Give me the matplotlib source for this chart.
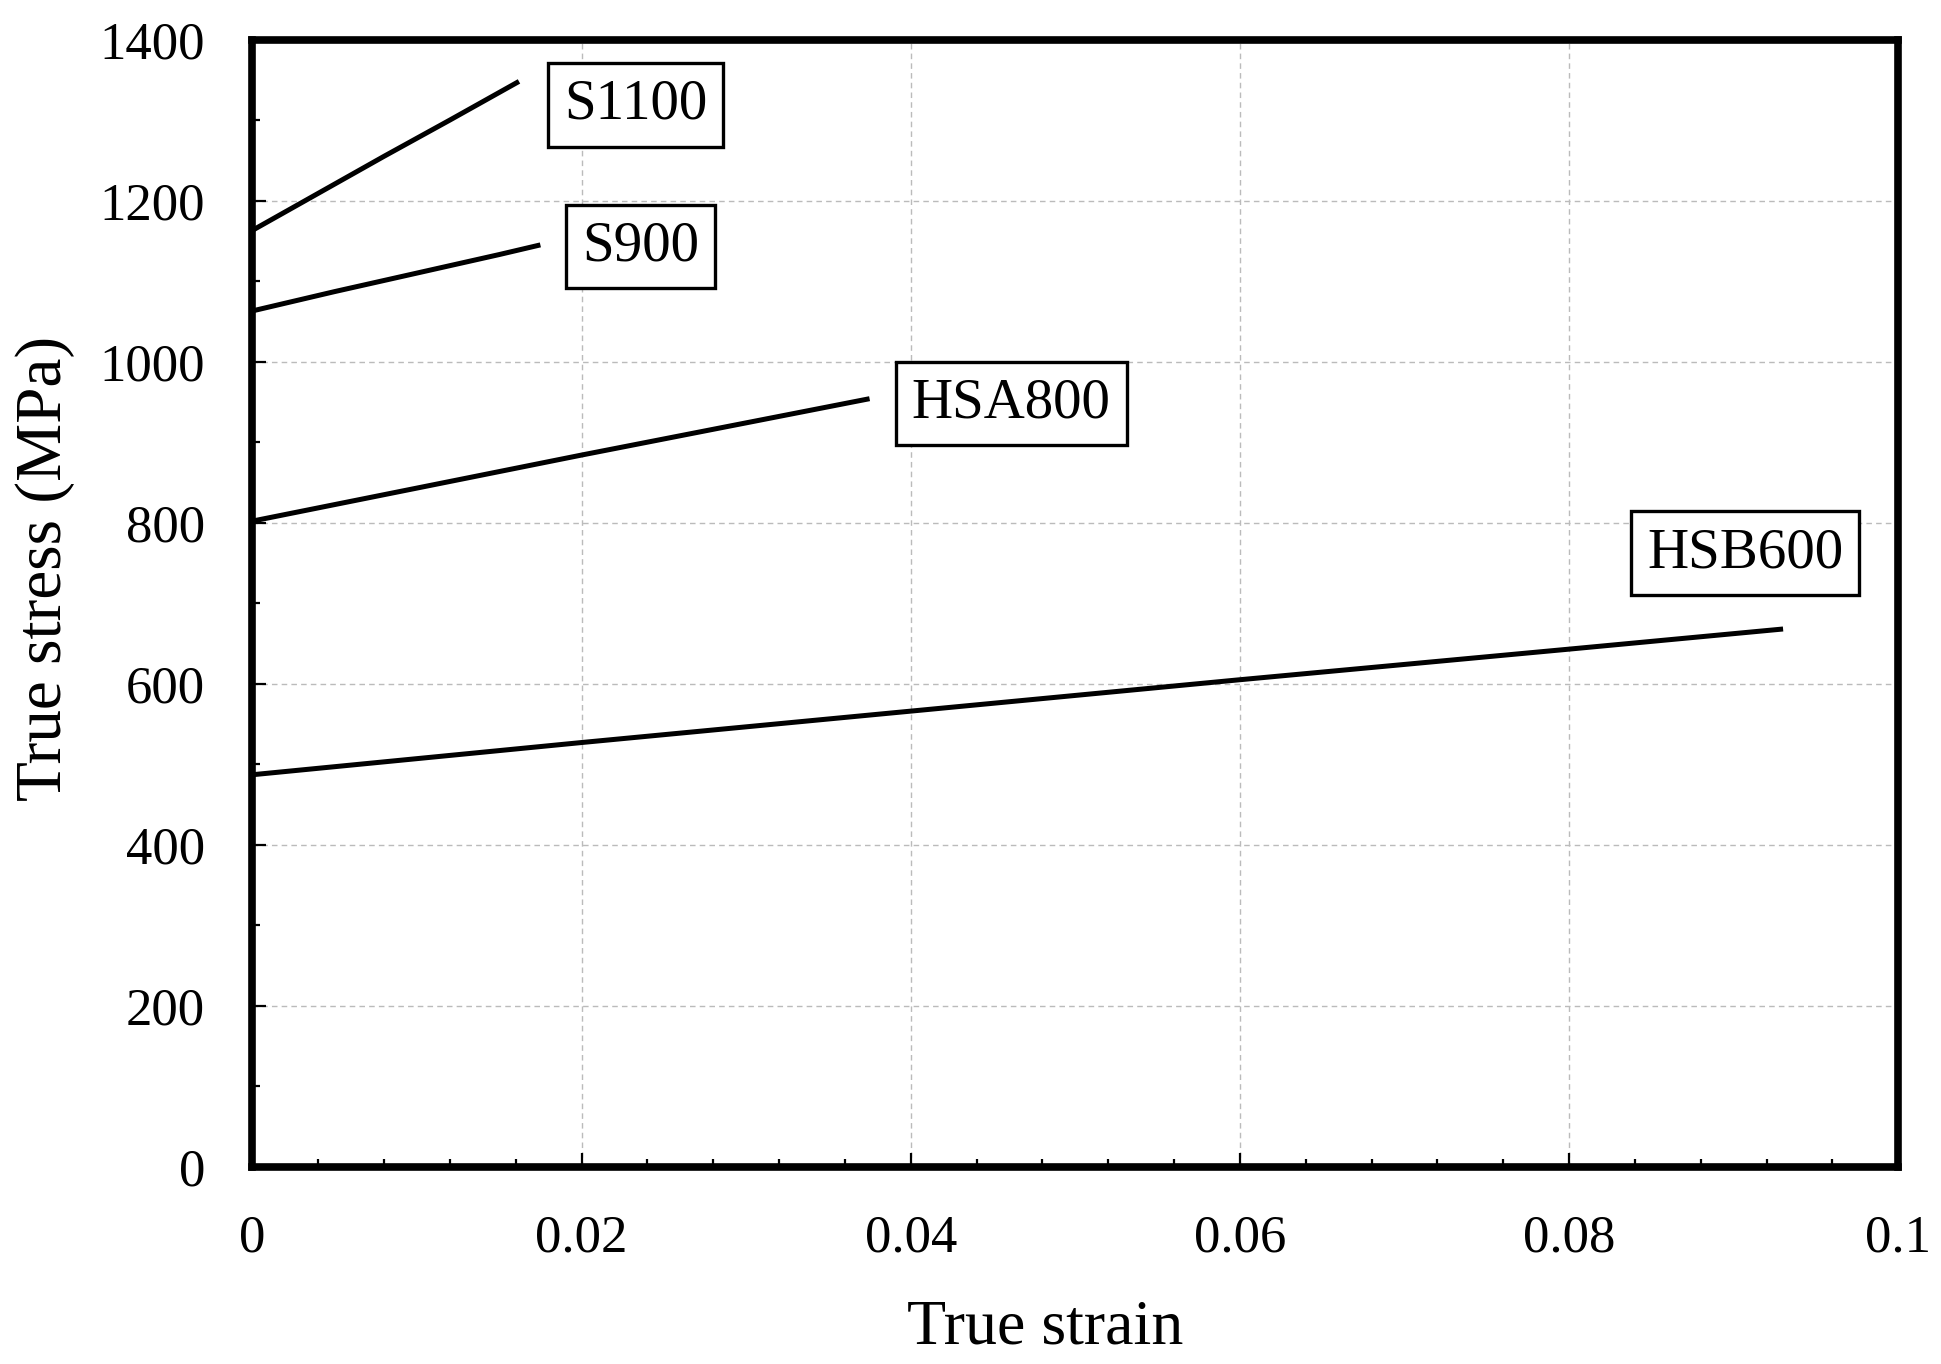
import numpy as np
import matplotlib
matplotlib.use("Agg")
import matplotlib.pyplot as plt
from matplotlib.ticker import MultipleLocator


# ============================================
# Data
# ============================================
s1100_strain = [0.0, 0.004, 0.008, 0.012, 0.0162]
s1100_stress = [1163, 1209, 1255, 1300, 1348]

s900_strain = [0.0, 0.005, 0.010, 0.015, 0.0175]
s900_stress = [1063, 1087, 1110, 1133, 1145]

hsa800_strain = [0.0, 0.01, 0.02, 0.03, 0.0375]
hsa800_stress = [802, 843, 884, 924, 954]

hsb600_strain = [0.0, 0.02, 0.04, 0.06, 0.08, 0.093]
hsb600_stress = [487, 527, 566, 605, 643, 668]

series_names = ["S1100", "S900", "HSA800", "HSB600"]
label_x = [0.0233, 0.0236, 0.0461, 0.0907]
label_y = [1319, 1143, 948, 762]

plt.rcParams["font.family"] = ["Liberation Serif", "DejaVu Serif"]

fig = plt.figure(figsize=(19.41, 13.64), dpi=100)
ax = fig.add_axes([0.130, 0.1445, 0.848, 0.8265])

curves = [
    (s1100_strain, s1100_stress),
    (s900_strain, s900_stress),
    (hsa800_strain, hsa800_stress),
    (hsb600_strain, hsb600_stress),
]
for xs, ys in curves:
    ax.plot(xs, ys, color="black", linewidth=3.6, solid_capstyle="butt", zorder=3)

for name, lx, ly in zip(series_names, label_x, label_y):
    ax.text(lx, ly, name, fontsize=41, ha="center", va="center", zorder=4,
            bbox=dict(boxstyle="square,pad=0.28", facecolor="white",
                      edgecolor="black", linewidth=2.4))

ax.set_xlim(0, 0.1)
ax.set_ylim(0, 1400)
ax.xaxis.set_major_locator(MultipleLocator(0.02))
ax.xaxis.set_minor_locator(MultipleLocator(0.004))
ax.yaxis.set_major_locator(MultipleLocator(200))
ax.yaxis.set_minor_locator(MultipleLocator(100))
ax.set_xticks([0, 0.02, 0.04, 0.06, 0.08, 0.1])
ax.set_xticklabels(["0", "0.02", "0.04", "0.06", "0.08", "0.1"])

ax.tick_params(which="both", direction="in", top=False, right=False,
               labelsize=38, width=1.6)
ax.tick_params(which="major", length=10, pad=34)
ax.tick_params(which="minor", length=6)

ax.grid(True, which="major", color="#bbbbbb", linestyle=(0, (4, 3)), linewidth=1.0)
ax.set_axisbelow(True)

for spine in ax.spines.values():
    spine.set_linewidth(5.5)

ax.set_xlabel("True strain", fontsize=46)
ax.set_ylabel("True stress (MPa)", fontsize=47)
ax.xaxis.set_label_coords(0.482, -0.118)
ax.yaxis.set_label_coords(-0.108, 0.531)

fig.savefig("out.png", dpi=100)
